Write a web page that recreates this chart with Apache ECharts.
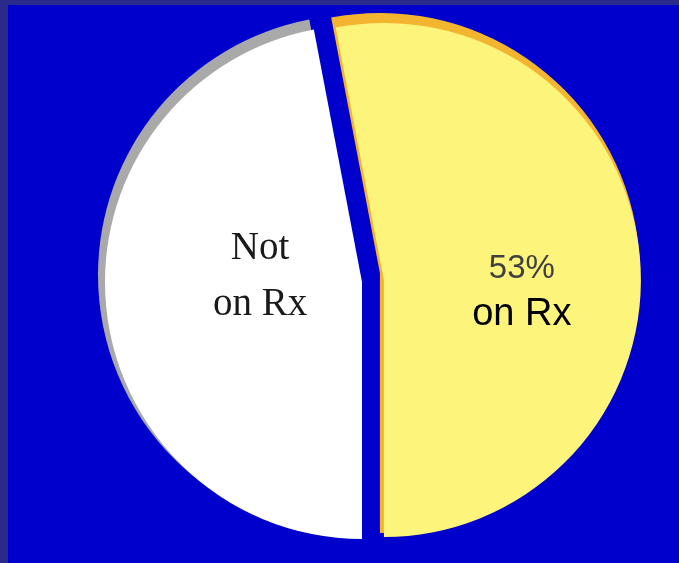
<!DOCTYPE html>
<html>
<head>
<meta charset="utf-8">
<script src="https://cdn.jsdelivr.net/npm/echarts@6/dist/echarts.min.js"></script>
<style>
  html, body { margin: 0; padding: 0; background: #2a2a8a; }
  #main { position: absolute; left: 8px; top: 5px; width: 671px; height: 558px; background: #0000cc; }
</style>
</head>
<body>
<div id="main"></div>
<script>
// slice values, yellow one first (clockwise from just left of 12 o'clock)
var names = ['on Rx', 'Not\non Rx'];
var values = [53, 47];
var fillColors = ['#fdf47c', '#ffffff'];
var rimColors = ['#f3b530', '#a9a9a9'];

var myChart = echarts.init(document.getElementById('main'));
var option = null;

var startAng = 90 + (values[0] / (values[0] + values[1])) * 360 - 180;

function slices(colors, withLabel) {
    var out = [];
    for (var i = 0; i < names.length; i++) {
        var item = {
            name: names[i],
            value: values[i],
            selected: i === 0,
            itemStyle: { color: colors[i] }
        };
        if (withLabel) {
            if (i === 0) {
                item.label = {
                    formatter: '{p|{d}%}\n{n|{b}}',
                    padding: [48, 0, 0, 14]
                };
            } else {
                item.label = {
                    formatter: '{b}',
                    fontFamily: 'Liberation Serif',
                    fontSize: 39,
                    lineHeight: 56,
                    color: '#1a1a1a',
                    padding: [0, 0, 36, 58]
                };
            }
        }
        out.push(item);
    }
    return out;
}

option = {
    animation: false,
    series: [
        {
            // rim behind the slices
            type: 'pie',
            silent: true,
            center: [350, 270],
            radius: [0, 260],
            startAngle: startAng,
            selectedMode: 'single',
            selectedOffset: 22,
            label: { show: false },
            labelLine: { show: false },
            data: slices(rimColors, false)
        },
        {
            type: 'pie',
            silent: true,
            center: [354, 277],
            radius: [0, 257],
            startAngle: startAng,
            selectedMode: 'single',
            selectedOffset: 22,
            itemStyle: { borderWidth: 0 },
            labelLine: { show: false },
            label: {
                show: true,
                position: 'inner',
                rich: {
                    p: { fontFamily: 'Liberation Sans', fontSize: 33, color: '#404040', lineHeight: 46 },
                    n: { fontFamily: 'Liberation Sans', fontSize: 38, color: '#000000', lineHeight: 46 }
                }
            },
            data: slices(fillColors, true)
        }
    ]
};

if (option && typeof option === "object") {
    myChart.setOption(option, true);
}
</script>
</body>
</html>
